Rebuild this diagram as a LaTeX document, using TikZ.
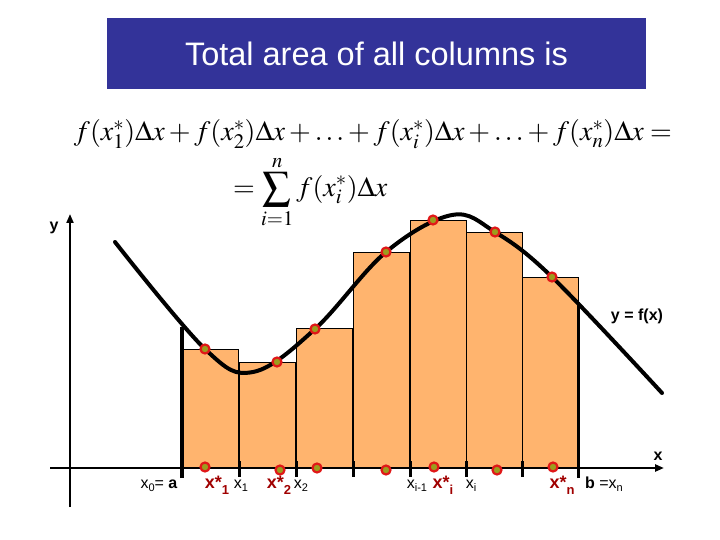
\documentclass[tikz,border=0pt]{standalone}
\usepackage{mathptmx}
\usepackage[no-math]{fontspec}
\setmainfont{Liberation Sans}
\usepackage{xcolor}
\usetikzlibrary{arrows.meta,positioning}
\definecolor{titleblue}{HTML}{333399}
\definecolor{barfill}{HTML}{FFB46E}
\definecolor{dotred}{HTML}{E01818}
\definecolor{dotcore}{HTML}{9C9C1E}
\definecolor{labelred}{HTML}{A00000}
\newcommand{\lowidx}[1]{\raisebox{-0.4ex}{\fontsize{11}{12}\selectfont\mdseries #1}}
\newcommand{\lowstar}[1]{\raisebox{-0.7ex}{\fontsize{13}{14}\selectfont\bfseries #1}}

\begin{document}
\begin{tikzpicture}[x=1pt,y=-1pt,
  bar/.style={draw=black,line width=0.8pt,fill=barfill},
  edgeline/.style={line width=3.2pt},
  curve/.style={line width=4pt,line cap=round},
  axis/.style={line width=2.6pt,-{Triangle[length=9pt,width=7pt]}},
  tickmark/.style={line width=3pt},
  sample/.style={circle,draw=dotred,fill=dotcore,line width=2.2pt,inner sep=0pt,minimum size=9pt},
  formula/.style={font=\fontsize{28}{34}\selectfont,inner sep=0pt},
  lbl/.style={font=\fontsize{16}{18}\selectfont,anchor=base},
  starlbl/.style={font=\fontsize{18}{21}\selectfont\bfseries,text=labelred,anchor=base}]
  \useasboundingbox (0,0) rectangle (720,540);
  % title
  \node[fill=titleblue,text=white,minimum width=539pt,minimum height=71pt,
    font=\fontsize{32.5}{38}\selectfont] (title) at (376.5,53.5) {Total area of all columns is};
  % formula
  \node[formula] (sumline) at (373,134)
    {$f(x_1^*)\Delta x+f(x_2^*)\Delta x+\ldots+f(x_i^*)\Delta x+\ldots+f(x_n^*)\Delta x=$};
  \node[formula,anchor=west] (sumeq) at (233,192)
    {$\displaystyle=\sum_{i=1}^{n}f(x_i^*)\Delta x$};
  % columns
  \foreach \xl/\yt in {182/349,239/362,296/328,353/252,410/220,466/232,522/277}
    \draw[bar] (\xl,468) rectangle ({\xl+56.5},\yt);
  \draw[edgeline] (182,478) -- (182,327);
  \draw[edgeline] (578.5,478) -- (578.5,302);
  % ticks
  \foreach \xt in {239,296,353,410,466,522}
    \draw[tickmark] (\xt,461) -- (\xt,477);
  % curve y = f(x)
  \draw[curve] plot[smooth,tension=0.6] coordinates {(115,242) (205,349) (253,372) (315,329)
    (386,252) (452,215) (495,232) (552,277) (662,393)};
  % axes
  \coordinate (xstart) at (50,468);
  \coordinate (xend) at (664,468);
  \coordinate (ybot) at (70,507);
  \coordinate (ytop) at (70,214);
  \draw[axis] (xstart) -- (xend);
  \draw[axis,line width=2pt] (ybot) -- (ytop);
  % sample points
  \foreach \sx/\sy [count=\k] in {205/349,277/362,315/329,386/252,433/220,495/232,552/277}
    \node[sample] (s\k) at (\sx,\sy) {};
  \foreach \sx/\sy [count=\k] in {205/467,280/470,317/468,386/470,434/467,497/470,553/467}
    \node[sample] (g\k) at (\sx,\sy) {};
  % labels
  \node[font=\fontsize{16}{18}\selectfont\bfseries] (ylbl) at (54,228) {y};
  \node[font=\fontsize{16}{18}\selectfont\bfseries] (fxlbl) at (637,316) {y = f(x)};
  \node[font=\fontsize{16}{18}\selectfont\bfseries] (xlbl) at (658,456) {x};
  \node[lbl] (x0) at (159,488) {x\lowidx{0}= \textbf{a}};
  \node[starlbl] (xs1) at (217,488) {x*\lowstar{1}};
  \node[lbl] (x1) at (241,488) {x\lowidx{1}};
  \node[starlbl] (xs2) at (279,488) {x*\lowstar{2}};
  \node[lbl] (x2) at (301,488) {x\lowidx{2}};
  \node[lbl] (xim) at (417,488) {x\lowidx{i-1}};
  \node[starlbl] (xsi) at (443,488) {x*\lowstar{i}};
  \node[lbl] (xi) at (471,488) {x\lowidx{i}};
  \node[starlbl] (xsn) at (562,488) {x*\lowstar{n}};
  \node[lbl] (xn) at (604,488) {\textbf{b} =x\lowidx{n}};
\end{tikzpicture}
\end{document}
